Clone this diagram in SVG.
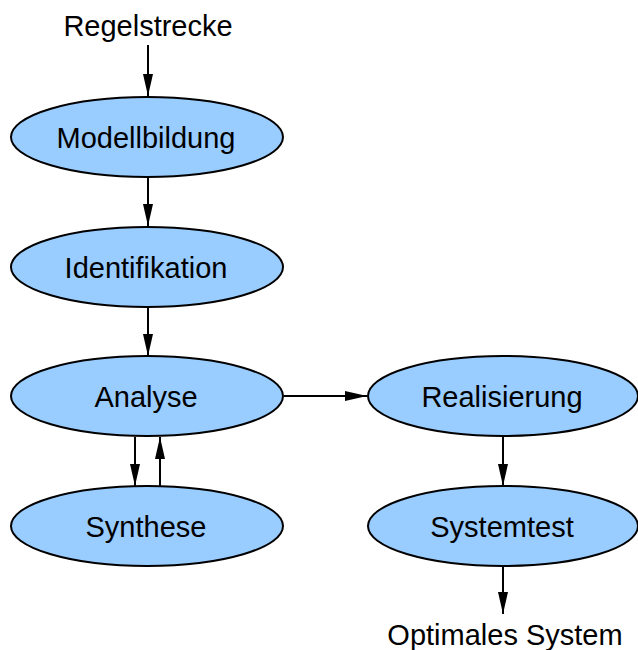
<svg xmlns="http://www.w3.org/2000/svg" width="638" height="650" viewBox="0 0 638 650">
<style>
.node ellipse{fill:#99ccff;stroke:#000;stroke-width:2}
text{font-family:"Liberation Sans",Arial,sans-serif;font-size:29px;fill:#000;text-anchor:middle}
.edges line{stroke:#000;stroke-width:2;marker-end:url(#ah)}
</style>
<defs>
<marker id="ah" markerUnits="userSpaceOnUse" markerWidth="24" markerHeight="10" refX="22" refY="5" orient="auto">
<path d="M0,0 L22,5 L0,10 Z" fill="#000"/>
</marker>
</defs>
<rect width="638" height="650" fill="#fff"/>
<g class="edges">
<line x1="148" y1="45" x2="148" y2="96"/>
<line x1="148" y1="178" x2="148" y2="226"/>
<line x1="148" y1="308" x2="148" y2="356"/>
<line x1="135" y1="437" x2="135" y2="486"/>
<line x1="160" y1="486" x2="160" y2="437"/>
<line x1="284" y1="396" x2="367" y2="396"/>
<line x1="503" y1="437" x2="503" y2="486"/>
<line x1="503" y1="567" x2="503" y2="614"/>
</g>
<text x="148" y="36">Regelstrecke</text>
<g class="node" id="modellbildung"><ellipse cx="147" cy="137" rx="136" ry="40"/><text x="146" y="148">Modellbildung</text></g>
<g class="node" id="identifikation"><ellipse cx="147" cy="267" rx="136" ry="40"/><text x="146" y="278">Identifikation</text></g>
<g class="node" id="analyse"><ellipse cx="147" cy="396" rx="136" ry="40"/><text x="146" y="407">Analyse</text></g>
<g class="node" id="synthese"><ellipse cx="147" cy="526" rx="136" ry="40"/><text x="146" y="537">Synthese</text></g>
<g class="node" id="realisierung"><ellipse cx="503" cy="396" rx="135" ry="40"/><text x="502" y="407">Realisierung</text></g>
<g class="node" id="systemtest"><ellipse cx="503" cy="526" rx="135" ry="40"/><text x="502" y="537">Systemtest</text></g>
<text x="505" y="645">Optimales System</text>
</svg>
